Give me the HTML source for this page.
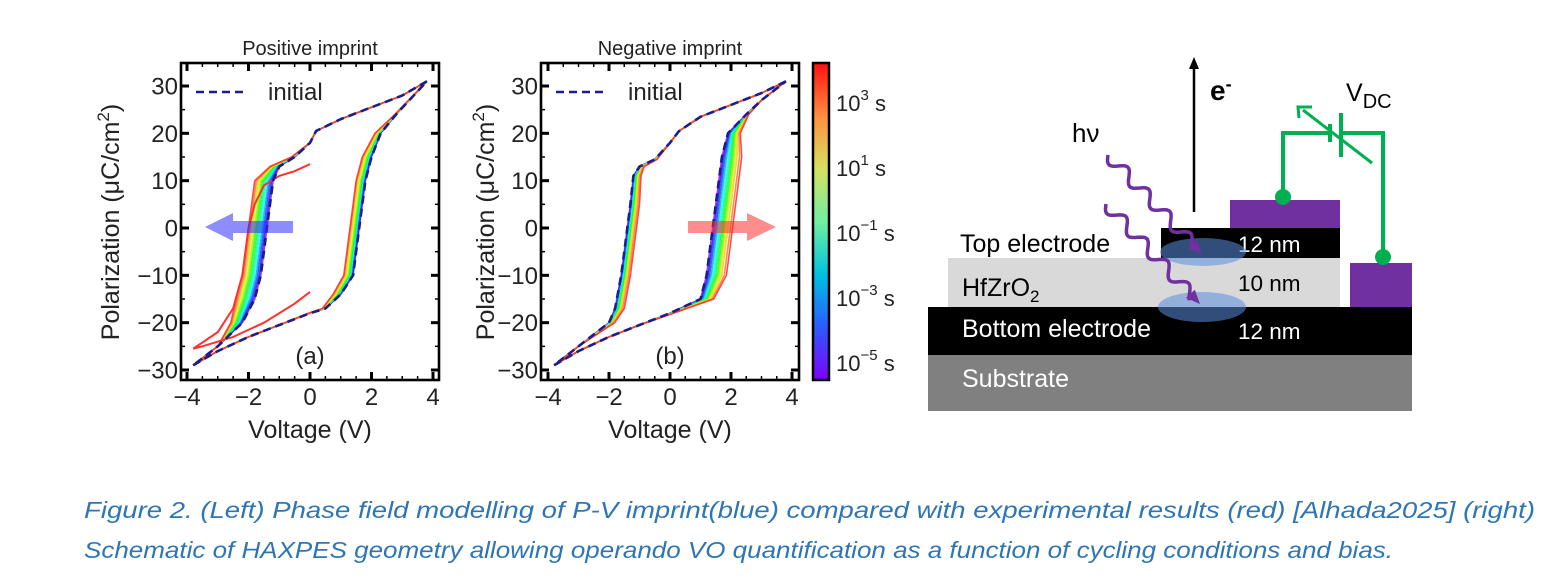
<!DOCTYPE html>
<html><head><meta charset="utf-8"><style>
html,body{margin:0;padding:0;background:#fff;}
svg{display:block;font-family:"Liberation Sans",sans-serif;}
</style></head><body>
<svg id="fig" width="1543" height="583" viewBox="0 0 1543 583" xmlns="http://www.w3.org/2000/svg">
<defs>
<linearGradient id="cbg" x1="0" y1="1" x2="0" y2="0">
<stop offset="0" stop-color="#7f00ff"/><stop offset="0.17" stop-color="#2a5cff"/><stop offset="0.33" stop-color="#00c0e0"/><stop offset="0.5" stop-color="#70f0a0"/><stop offset="0.67" stop-color="#d8e060"/><stop offset="0.83" stop-color="#ff9040"/><stop offset="1" stop-color="#ff1010"/>
</linearGradient>
</defs>
<g id="panelA"></g>
<g id="panelB"></g>

<g>
<rect x="813" y="63" width="16" height="317" fill="url(#cbg)" stroke="#000" stroke-width="2.5"/>
<g font-size="22" fill="#222">
<text x="836" y="111">10<tspan dy="-11" font-size="15">3</tspan><tspan dy="11"> s</tspan></text>
<text x="836" y="176">10<tspan dy="-11" font-size="15">1</tspan><tspan dy="11"> s</tspan></text>
<text x="836" y="241">10<tspan dy="-11" font-size="15">−1</tspan><tspan dy="11"> s</tspan></text>
<text x="836" y="306">10<tspan dy="-11" font-size="15">−3</tspan><tspan dy="11"> s</tspan></text>
<text x="836" y="371">10<tspan dy="-11" font-size="15">−5</tspan><tspan dy="11"> s</tspan></text>
</g></g>

<g>
<rect x="928" y="355" width="484" height="56" fill="#808080"/>
<rect x="928" y="307" width="484" height="48" fill="#000"/>
<rect x="948" y="258" width="392" height="49" fill="#d9d9d9"/>
<rect x="1161" y="228" width="179" height="30" fill="#000"/>
<rect x="1230" y="200" width="110" height="28" fill="#7030a0"/>
<rect x="1350" y="263" width="62" height="44" fill="#7030a0"/>
<g font-size="25">
<text x="960" y="252" fill="#000">Top electrode</text>
<text x="962" y="296" fill="#000">HfZrO<tspan dy="6" font-size="17">2</tspan></text>
<text x="962" y="337" fill="#fff">Bottom electrode</text>
<text x="962" y="387" fill="#fff">Substrate</text>
<text x="1238" y="252" fill="#fff" font-size="22.5">12 nm</text>
<text x="1238" y="291" fill="#000" font-size="22.5">10 nm</text>
<text x="1238" y="339" fill="#fff" font-size="22.5">12 nm</text>
</g>
<ellipse cx="1203" cy="252" rx="43" ry="14" fill="#5a8ee0" fill-opacity="0.55"/>
<ellipse cx="1202" cy="307" rx="44" ry="15" fill="#5a8ee0" fill-opacity="0.55"/>
<g id="waves" stroke="#7030a0" stroke-width="3.5" fill="none"></g>
<text x="1072" y="142" font-size="26" fill="#000">hν</text>
<line x1="1194" y1="212" x2="1194" y2="66" stroke="#000" stroke-width="2.5"/>
<polygon points="1194,57 1189,69 1199,69" fill="#000"/>
<text x="1210" y="100" font-size="28" font-weight="bold">e<tspan dy="-10" font-size="18">-</tspan></text>
<text x="1346" y="101" font-size="25">V<tspan dy="7" font-size="20">DC</tspan></text>
<g stroke="#00b050" stroke-width="4" fill="none">
<polyline points="1283,197 1283,133 1330,133"/>
<polyline points="1341,133 1383,133 1383,257"/>
<line x1="1330" y1="124" x2="1330" y2="142"/>
<line x1="1341" y1="113" x2="1341" y2="157"/>
<line x1="1372" y1="163" x2="1303" y2="110" stroke-width="3"/>
<polyline points="1299,118 1298,107 1312,107" stroke-width="3"/>
</g>
<circle cx="1283" cy="197" r="8" fill="#00b050"/>
<circle cx="1383" cy="257" r="8" fill="#00b050"/>
</g>

<g font-style="italic" font-size="23" fill="#2e75b6">
<text x="84" y="518" textLength="1451" lengthAdjust="spacingAndGlyphs">Figure 2. (Left) Phase field modelling of P-V imprint(blue) compared with experimental results (red) [Alhada2025] (right)</text>
<text x="84" y="558" textLength="1309" lengthAdjust="spacingAndGlyphs">Schematic of HAXPES geometry allowing operando VO quantification as a function of cycling conditions and bias.</text>
</g>
</svg>
<script>
// ---- data ----
const xTicks = [-4,-2,0,2,4];
const yTicks = [-30,-20,-10,0,10,20,30];
// panel (a) initial loop
const aUpV = [3.8,3,2,1,0.2,0,-0.5,-1,-1.2,-1.3,-1.4,-1.5,-1.6,-1.8,-2.2,-3,-3.8];
const aUpP = [31,28,25.5,23,20.5,18,15,13,10,5,0,-5,-10,-15,-20,-25,-29];
const aLoV = [-3.8,-3,-2,-1,0,0.5,1,1.4,1.5,1.6,1.7,1.8,2,2.3,2.8,3.8];
const aLoP = [-29,-26,-23,-20.5,-18,-17,-14,-10,-5,0,5,10,15,20,24,31];
const aLeftShift = [0,-0.05,-0.1,-0.15,-0.2,-0.25,-0.3,-0.35,-0.4,-0.45,-0.5,-0.55,-0.6];
const aRightShift = [0,-0.02,-0.04,-0.06,-0.08,-0.1,-0.12,-0.14,-0.16,-0.2,-0.24,-0.28,-0.3];
// panel (a) outlier red loop
const aRedUpV = [0,-0.5,-1,-1.5,-1.8,-2,-2.1,-2.2,-2.5,-3,-3.8];
const aRedUpP = [13.5,12,11,9,5,0,-5,-10,-17,-22,-25.5];
const aRedLoV = [-3.8,-3.5,-2.5,-1.5,-0.5,0];
const aRedLoP = [-25.5,-25,-23,-20,-16,-13.5];
// panel (b) initial loop
const bUpV = [3.8,3,2,1,0.3,0,-0.5,-1,-1.2,-1.3,-1.4,-1.5,-1.6,-1.8,-2,-3,-3.8];
const bUpP = [31,28.5,26,23.5,20.5,18,14.5,13,11,5,0,-5,-10,-17,-20,-25,-29];
const bLoV = [-3.8,-3,-2,-1,0,0.5,1,1.2,1.3,1.4,1.5,1.7,1.9,2.5,3,3.8];
const bLoP = [-29,-26,-23,-20.5,-18,-16.5,-15,-10,-5,0,5,15,20,24,27,31];
const bLeftShift = [0,0.02,0.04,0.06,0.08,0.1,0.12,0.14,0.16,0.18,0.2,0.25,0.3];
const bRightShift = [0,0.05,0.1,0.15,0.2,0.25,0.3,0.35,0.4,0.45,0.5,0.58,0.65];

const NS = "http://www.w3.org/2000/svg";
function mk(tag, attrs, parent){const e=document.createElementNS(NS,tag);for(const k in attrs)e.setAttribute(k,attrs[k]);parent.appendChild(e);return e;}
function taper(P,lo0,lo1,hi1,hi0){if(P<=lo0||P>=hi0)return 0;if(P<lo1)return (P-lo0)/(lo1-lo0);if(P>hi1)return (hi0-P)/(hi0-hi1);return 1;}

function panel(g, cfg){
  const xs = v => cfg.x0 + (v+4)*(cfg.x1-cfg.x0)/8;
  const ys = p => 86 + (30-p)*(370-86)/60;
  const path = (V,P,dl,dr,wl,wr) => V.map((v,i)=>{
    const s = (wl? dl*taper(P[i],-25,-17,10,16):0) + (wr? dr*taper(P[i],-19,-13,17,25):0);
    return (i?'L':'M')+xs(v+s).toFixed(1)+','+ys(P[i]).toFixed(1);}).join(' ');
  const n = cfg.ls.length;
  for(let k=0;k<n;k++){
    const hue = 270 - 270*k/(n-1);
    const col = `hsl(${hue},95%,${k>n-4?58:52}%)`;
    const up = mk('path',{d:path(cfg.uV,cfg.uP,cfg.ls[k],0,true,false),stroke:col,'stroke-width':1.6,fill:'none','stroke-opacity':0.85,'stroke-linejoin':'round'},g);
    
    
    const lo = mk('path',{d:path(cfg.lV,cfg.lP,0,cfg.rs[k],false,true),stroke:col,'stroke-width':1.6,fill:'none','stroke-opacity':0.85,'stroke-linejoin':'round'},g);
    
    
  }
  if(cfg.red){
    const r1 = mk('path',{d:path(cfg.red[0],cfg.red[1],0,0,false,false)+' '+path(cfg.red[2],cfg.red[3],0,0,false,false).replace('M','L'),stroke:'#ff3030','stroke-width':2,fill:'none'},g);
    
    
  }
  const ini = mk('path',{d:path(cfg.uV,cfg.uP,0,0,false,false)+' '+path(cfg.lV,cfg.lP,0,0,false,false),stroke:'#1c1c8c','stroke-width':2.6,fill:'none','stroke-dasharray':'8 5'},g);
  
  
  const ar = mk('polygon',{points:cfg.arrow,fill:cfg.arrowCol,'fill-opacity':0.55},g);
  
  
  const fr = mk('rect',{x:cfg.bx0,y:63,width:cfg.bx1-cfg.bx0,height:317,fill:'none',stroke:'#000','stroke-width':2.6},g);
  
  
  for(let v=-4;v<=4.01;v+=0.5){
    const major = Math.abs(v%2)<0.01; const L = major?8:4;
    mk('line',{x1:xs(v),x2:xs(v),y1:380,y2:380-L,stroke:'#000','stroke-width':major?3:1.5},g);
    mk('line',{x1:xs(v),x2:xs(v),y1:63,y2:63+L,stroke:'#000','stroke-width':major?3:1.5},g);
  }
  for(let p=-30;p<=30;p+=5){
    const major = p%10===0; const L = major?8:4;
    mk('line',{x1:cfg.bx0,x2:cfg.bx0+L,y1:ys(p),y2:ys(p),stroke:'#000','stroke-width':major?3:1.5},g);
    mk('line',{x1:cfg.bx1,x2:cfg.bx1-L,y1:ys(p),y2:ys(p),stroke:'#000','stroke-width':major?3:1.5},g);
  }
  xTicks.forEach(v=>{const t=mk('text',{x:xs(v),y:405,'font-size':24,'text-anchor':'middle',fill:'#222'},g);t.textContent=(v<0?'−':'')+Math.abs(v);
    
    });
  yTicks.forEach(p=>{const t=mk('text',{x:cfg.bx0-3,y:ys(p)+8.5,'font-size':24,'text-anchor':'end',fill:'#222'},g);t.textContent=(p<0?'−':'')+Math.abs(p);
    
    });
  const xt=mk('text',{x:(cfg.bx0+cfg.bx1)/2,y:438,'font-size':25,'text-anchor':'middle',fill:'#222'},g);xt.textContent='Voltage (V)';
  
  
  const yt=mk('text',{x:0,y:0,'font-size':25,'text-anchor':'middle',fill:'#222',transform:`translate(${cfg.ytx},222) rotate(-90)`},g);
  yt.innerHTML='Polarization (μC/cm<tspan dy="-10" font-size="17">2</tspan><tspan dy="10">)</tspan>';
  
  
  const tt=mk('text',{x:(cfg.bx0+cfg.bx1)/2,y:55,'font-size':20,'text-anchor':'middle',fill:'#222'},g);tt.textContent=cfg.title;
  
  
  const pl=mk('text',{x:(cfg.bx0+cfg.bx1)/2,y:364,'font-size':24,'text-anchor':'middle',fill:'#222'},g);pl.textContent=cfg.label;
  
  
  const lg=mk('line',{x1:cfg.bx0+15,x2:cfg.bx0+65,y1:92,y2:92,stroke:'#1c1c8c','stroke-width':2.6,'stroke-dasharray':'8 5'},g);
  
  
  const lt=mk('text',{x:cfg.bx0+87,y:100,'font-size':24,fill:'#222'},g);lt.textContent='initial';
  
  
}
panel(document.getElementById('panelA'),{x0:187,x1:433,bx0:181,bx1:439,ytx:119,uV:aUpV,uP:aUpP,lV:aLoV,lP:aLoP,ls:aLeftShift,rs:aRightShift,red:[aRedUpV,aRedUpP,aRedLoV,aRedLoP],
  arrow:'293,221 233,221 233,213 205,227 233,241 233,233 293,233',arrowCol:'#3030ff',title:'Positive imprint',label:'(a)'});
panel(document.getElementById('panelB'),{x0:548,x1:792,bx0:541,bx1:799,ytx:494,uV:bUpV,uP:bUpP,lV:bLoV,lP:bLoP,ls:bLeftShift,rs:bRightShift,
  arrow:'688,221 747,221 747,213 776,227 747,241 747,233 688,233',arrowCol:'#ff3030',title:'Negative imprint',label:'(b)'});

const wg=document.getElementById('waves');
[[1108,155,1202,254],[1106,204,1200,304]].forEach((w,j)=>{
  const [x0,y0,x1,y1]=w; const dx=x1-x0, dy=y1-y0, L=Math.hypot(dx,dy), ux=dx/L, uy=dy/L;
  let d=''; for(let i=0;i<=80;i++){const t=i/80*(L-10); const off=6*Math.sin(t/L*2*Math.PI*4.5);
    d+=(i?'L':'M')+(x0+ux*t-uy*off).toFixed(1)+','+(y0+uy*t+ux*off).toFixed(1);}
  const p=mk('path',{d:d},wg);
  
  
  const h=mk('polygon',{points:`${x1},${y1} ${x1-14*ux+6*uy},${y1-14*uy-6*ux} ${x1-14*ux-6*uy},${y1-14*uy+6*ux}`,fill:'#7030a0',stroke:'none'},wg);
  
  
});
</script>
</body></html>
